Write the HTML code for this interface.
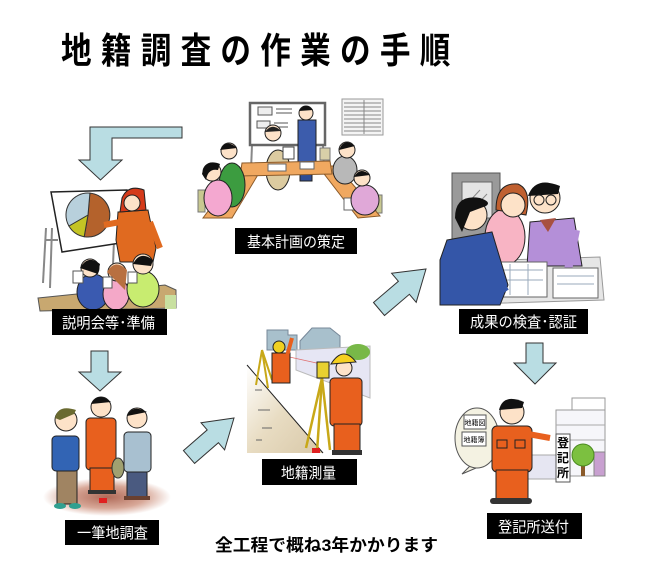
<!DOCTYPE html>
<html><head><meta charset="utf-8"><style>
html,body{margin:0;padding:0;background:#fff;}
svg{display:block;}
text{font-family:"Liberation Sans","Noto Sans CJK JP",sans-serif;}
</style></head><body>
<svg width="656" height="570" viewBox="0 0 656 570" xmlns="http://www.w3.org/2000/svg">
<defs>
<radialGradient id="sh" cx="0.5" cy="0.5" r="0.5"><stop offset="0" stop-color="#b06a58"/><stop offset="0.6" stop-color="#d8a898"/><stop offset="1" stop-color="#ffffff"/></radialGradient>
<linearGradient id="rd" x1="0" y1="0" x2="1" y2="1"><stop offset="0" stop-color="#ffffff"/><stop offset="0.5" stop-color="#e8dcc2"/><stop offset="1" stop-color="#d8c8a8"/></linearGradient>
</defs>
<rect width="656" height="570" fill="#fff"/>

<!-- Title -->
<text transform="translate(61,63) scale(0.85,1)" font-size="36" font-weight="bold" textLength="458" lengthAdjust="spacing" fill="#000">地籍調査の作業の手順</text>

<!-- Arrows -->
<g fill="#b9dde3" stroke="#333" stroke-width="1">
<polygon points="182,127 90,127 90,160 79,160 100.5,180 122,160 112,160 112,138 182,138"/>
<polygon points="91,351 108,351 108,372 121,372 100,391 79,372 91,372"/>
<polygon points="526,343 543,343 543,363 556,363 535,384 514,363 526,363"/>
<polygon points="183.4,450.6 207.2,429.9 201,422.7 234,418 224.6,449.9 218.4,442.7 194.6,463.4"/>
<polygon points="373.5,302.5 398.4,281.3 391.6,273.3 426,269 416.2,302.3 409.4,294.3 384.5,315.5"/>
</g>

<!-- A: meeting -->
<g>
<line x1="252" y1="145" x2="251" y2="170" stroke="#888" stroke-width="2"/>
<line x1="323" y1="145" x2="324" y2="168" stroke="#888" stroke-width="2"/>
<rect x="250" y="103" width="75" height="42" fill="#fff" stroke="#666" stroke-width="2.5"/>
<rect x="258" y="107" width="14" height="8" fill="#eee" stroke="#555"/>
<rect x="257" y="121" width="13" height="7" fill="#eee" stroke="#555"/>
<g stroke="#555" stroke-width="1"><line x1="276" y1="109" x2="292" y2="109"/><line x1="276" y1="113" x2="292" y2="113"/><line x1="274" y1="123" x2="288" y2="123"/><line x1="274" y1="127" x2="288" y2="127"/></g>
<rect x="342" y="99" width="41" height="36" fill="#f4f4f4" stroke="#999"/>
<g stroke="#888" stroke-width="1"><line x1="344" y1="103" x2="381" y2="103"/><line x1="344" y1="107" x2="381" y2="107"/><line x1="344" y1="111" x2="381" y2="111"/><line x1="344" y1="115" x2="381" y2="115"/><line x1="344" y1="119" x2="381" y2="119"/><line x1="344" y1="123" x2="381" y2="123"/><line x1="344" y1="127" x2="381" y2="127"/><line x1="344" y1="131" x2="381" y2="131"/><line x1="364" y1="100" x2="364" y2="134"/></g>
<rect x="320" y="148" width="10" height="12" fill="#d8d0a8" stroke="#777"/>
<rect x="198" y="190" width="7" height="22" fill="#c8c890" stroke="#777"/>
<rect x="376" y="195" width="6" height="18" fill="#c8c890" stroke="#777"/>
<rect x="298" y="120" width="18" height="45" fill="#3c5cac" stroke="#222"/>
<rect x="300" y="163" width="12" height="18" fill="#2e4c94" stroke="#222"/>
<circle cx="306" cy="113" r="7" fill="#fde2c8" stroke="#222"/>
<path d="M299,111 Q305,101 313,110 Z" fill="#111"/>
<ellipse cx="278" cy="170" rx="12" ry="20" fill="#dccba0" stroke="#222"/>
<circle cx="273" cy="133" r="8" fill="#fde2c8" stroke="#222"/>
<path d="M265,132 Q272,122 281,131 Z" fill="#222"/>
<rect x="283" y="147" width="11" height="12" fill="#fff" stroke="#444"/>
<g fill="#f0a860" stroke="#8a5a2a" stroke-width="1">
<polygon points="240,168 262,168 232,218 203,218"/>
<polygon points="318,166 337,166 380,216 358,218"/>
<polygon points="242,163 330,161 332,174 240,176"/>
</g>
<g fill="#fff" stroke="#666"><rect x="268" y="164" width="18" height="7"/><rect x="300" y="162" width="14" height="7"/><rect x="222" y="192" width="14" height="8"/><rect x="344" y="198" width="18" height="12"/></g>
<ellipse cx="232" cy="185" rx="13" ry="22" fill="#3c9c40" stroke="#222"/>
<circle cx="229" cy="151" r="8" fill="#fde2c8" stroke="#222"/>
<path d="M220,150 Q226,138 237,148 Z" fill="#111"/>
<ellipse cx="218" cy="198" rx="14" ry="18" fill="#f4a8d0" stroke="#222"/>
<circle cx="212" cy="172" r="9" fill="#fde2c8" stroke="#222"/>
<path d="M202,174 Q205,158 220,164 L218,170 Q208,168 206,180 Z" fill="#111"/>
<ellipse cx="345" cy="170" rx="12" ry="14" fill="#b8b8b8" stroke="#222"/>
<circle cx="347" cy="150" r="8" fill="#fde2c8" stroke="#222"/>
<path d="M339,150 Q344,137 355,146 Z" fill="#111"/>
<ellipse cx="365" cy="200" rx="14" ry="15" fill="#e0a8d8" stroke="#222"/>
<circle cx="362" cy="178" r="8" fill="#fde2c8" stroke="#222"/>
<path d="M354,177 Q360,166 370,175 Z" fill="#111"/>
</g>

<!-- B: presentation -->
<g>
<g stroke="#888" stroke-width="2" fill="none">
<line x1="46" y1="228" x2="43" y2="283"/><line x1="52" y1="228" x2="50" y2="288"/><line x1="46" y1="240" x2="58" y2="240"/>
<line x1="114" y1="240" x2="113" y2="265"/><line x1="124" y1="240" x2="126" y2="262"/>
</g>
<polygon points="51,192 127,190 127,242 62,252" fill="#fff" stroke="#222" stroke-width="1.5"/>
<path d="M88,215 L89.9,193.1 A22,22 0 1 1 84.2,236.7 Z" fill="#b4622c" stroke="#333"/>
<path d="M88,215 L84.2,236.7 A22,22 0 0 1 68.9,226 Z" fill="#c4c424" stroke="#333"/>
<path d="M88,215 L68.9,226 A22,22 0 0 1 89.9,193.1 Z" fill="#b8d0dc" stroke="#333"/>
<polygon points="118,212 148,210 156,248 153,262 120,262 116,240" fill="#e06a20" stroke="#222"/>
<line x1="120" y1="222" x2="104" y2="225" stroke="#e06a20" stroke-width="6"/>
<line x1="150" y1="222" x2="160" y2="248" stroke="#e06a20" stroke-width="6"/>
<path d="M122,198 Q128,184 144,190 L146,210 L120,212 Z" fill="#d43a1a" stroke="#222"/>
<circle cx="132" cy="203" r="8" fill="#fde2c8" stroke="#222"/>
<polygon points="38,298 165,285 176,290 176,308 40,311" fill="#c8a870" stroke="#555"/>
<rect x="165" y="295" width="11" height="14" fill="#c8e0a0"/>
<ellipse cx="93" cy="292" rx="16" ry="18" fill="#3a5ab0" stroke="#222"/>
<circle cx="90" cy="268" r="9" fill="#fde2c8" stroke="#222"/>
<path d="M80,268 Q88,254 100,264 L98,274 Z" fill="#111"/>
<ellipse cx="116" cy="294" rx="13" ry="16" fill="#f4a8c8" stroke="#222"/>
<circle cx="117" cy="272" r="9" fill="#fde2c8" stroke="#222"/>
<path d="M107,272 Q115,258 127,270 L125,290 Z" fill="#b87040"/>
<ellipse cx="143" cy="289" rx="16" ry="18" fill="#c8ec70" stroke="#222"/>
<circle cx="143" cy="264" r="10" fill="#fde2c8" stroke="#222"/>
<path d="M133,264 Q140,250 153,260 L151,266 Z" fill="#111"/>
<g fill="#fff" stroke="#555"><rect x="73" y="271" width="10" height="12"/><rect x="103" y="277" width="9" height="11"/><rect x="128" y="272" width="9" height="11"/></g>
</g>

<!-- C: inspection -->
<g>
<rect x="452" y="173" width="48" height="92" fill="#9a9a9a" stroke="#555"/>
<rect x="462" y="182" width="30" height="36" fill="#e4e4e4" stroke="#666"/>
<g stroke="#888"><line x1="466" y1="205" x2="480" y2="190"/><line x1="472" y1="210" x2="487" y2="194"/></g>
<polygon points="440,262 600,257 604,300 440,305" fill="#e6e6e6" stroke="#999"/>
<polygon points="530,222 574,218 582,266 527,266" fill="#b48fd8" stroke="#222"/>
<polygon points="540,220 556,218 548,232" fill="#a85040"/>
<line x1="576" y1="230" x2="568" y2="270" stroke="#b48fd8" stroke-width="8"/>
<circle cx="545" cy="198" r="15" fill="#fde2c8" stroke="#222"/>
<path d="M528,196 Q535,176 560,186 L558,194 Z" fill="#111"/>
<circle cx="539" cy="200" r="5" fill="none" stroke="#222"/><circle cx="551" cy="200" r="5" fill="none" stroke="#222"/>
<ellipse cx="505" cy="237" rx="20" ry="28" fill="#f8b4c4" stroke="#222"/>
<path d="M496,210 Q496,182 518,184 Q532,190 526,215 Z" fill="#c06030" stroke="#222"/>
<circle cx="513" cy="205" r="12" fill="#fde2c8" stroke="#222"/>
<rect x="492" y="262" width="55" height="35" fill="#fff" stroke="#666"/>
<g stroke="#9ab" stroke-width="1"><line x1="496" y1="270" x2="543" y2="270"/><line x1="496" y1="280" x2="543" y2="280"/><line x1="510" y1="264" x2="510" y2="295"/><line x1="528" y1="264" x2="528" y2="295"/></g>
<rect x="553" y="268" width="45" height="30" fill="#fff" stroke="#666"/>
<g stroke="#9ab"><line x1="557" y1="276" x2="594" y2="276"/><line x1="557" y1="284" x2="594" y2="284"/></g>
<polygon points="447,240 492,232 508,285 500,305 440,305 440,260" fill="#3456a8" stroke="#222"/>
<line x1="490" y1="270" x2="505" y2="292" stroke="#3456a8" stroke-width="9"/>
<circle cx="472" cy="215" r="15" fill="#fde2c8" stroke="#222"/>
<path d="M455,218 Q455,194 480,198 Q492,202 486,206 L470,212 L462,232 Z" fill="#111"/>
</g>

<!-- D: field survey people -->
<g>
<ellipse cx="107" cy="497" rx="64" ry="19" fill="url(#sh)"/>
<rect x="57" y="468" width="20" height="36" fill="#a08462" stroke="#222"/>
<rect x="52" y="436" width="27" height="35" rx="4" fill="#3264b4" stroke="#222"/>
<ellipse cx="60" cy="506" rx="6" ry="3" fill="#30a090"/><ellipse cx="75" cy="506" rx="6" ry="3" fill="#30a090"/>
<circle cx="66" cy="420" r="11" fill="#fde2c8" stroke="#222"/>
<path d="M55,418 Q58,404 76,410 L74,414 L60,420 Z" fill="#6a6a30"/>
<rect x="86" y="418" width="30" height="52" rx="4" fill="#e8601e" stroke="#222"/>
<rect x="90" y="468" width="24" height="24" fill="#e8601e" stroke="#222"/>
<rect x="88" y="490" width="28" height="4" fill="#333"/>
<circle cx="101" cy="407" r="10" fill="#fde2c8" stroke="#222"/>
<path d="M91,404 Q98,391 111,402 Z" fill="#111"/>
<ellipse cx="118" cy="468" rx="6" ry="10" fill="#a0a070" stroke="#333"/>
<rect x="127" y="470" width="20" height="28" fill="#4a5a80" stroke="#222"/>
<rect x="124" y="432" width="27" height="40" rx="4" fill="#a8c0d0" stroke="#222"/>
<rect x="124" y="496" width="26" height="4" fill="#6a4030"/>
<circle cx="137" cy="418" r="10" fill="#fde2c8" stroke="#222"/>
<path d="M127,416 Q132,404 147,412 Z" fill="#111"/>
<rect x="99" y="498" width="8" height="5" fill="#e02020"/>
</g>

<!-- E: surveying -->
<g>
<polygon points="247,365 323,453 247,453" fill="url(#rd)"/>
<line x1="247" y1="365" x2="323" y2="453" stroke="#222" stroke-width="1"/>
<g stroke="#666"><line x1="255" y1="390" x2="262" y2="390"/><line x1="258" y1="410" x2="270" y2="410"/><line x1="262" y1="428" x2="272" y2="428"/><line x1="256" y1="440" x2="262" y2="440"/></g>
<polygon points="267,330 288,330 288,335 297,335 297,350 267,350" fill="#a8c0cc" stroke="#789"/>
<polygon points="300,341 312,328 330,328 340,336 340,350 300,350" fill="#a8c0cc" stroke="#789"/>
<polygon points="296,350 370,346 370,398 296,370" fill="#e6e6f4" stroke="#bbb"/>
<ellipse cx="358" cy="352" rx="12" ry="8" fill="#78b848"/>
<line x1="285" y1="356" x2="330" y2="366" stroke="#e07070" stroke-width="0.8"/>
<g stroke="#c8a818" stroke-width="2"><line x1="262" y1="350" x2="256" y2="385"/><line x1="262" y1="350" x2="268" y2="388"/><line x1="262" y1="350" x2="272" y2="380"/></g>
<rect x="272" y="353" width="18" height="30" fill="#e8601e" stroke="#222"/>
<line x1="287" y1="356" x2="292" y2="338" stroke="#e8601e" stroke-width="4"/>
<circle cx="279" cy="347" r="6" fill="#f0d020" stroke="#222"/>
<g stroke="#c8a818" stroke-width="2.5"><line x1="322" y1="378" x2="306" y2="448"/><line x1="322" y1="378" x2="330" y2="450"/><line x1="322" y1="378" x2="317" y2="452"/></g>
<rect x="317" y="362" width="12" height="16" fill="#e8d030" stroke="#222"/>
<rect x="330" y="378" width="32" height="48" rx="4" fill="#e8601e" stroke="#222"/>
<rect x="334" y="424" width="26" height="28" fill="#e8601e" stroke="#222"/>
<rect x="332" y="450" width="30" height="5" fill="#333"/>
<circle cx="344" cy="368" r="8" fill="#fde2c8" stroke="#222"/>
<path d="M331,364 Q343,345 356,362 Z" fill="#f5d020" stroke="#222"/>
<rect x="312" y="448" width="8" height="5" fill="#e02020"/>
</g>

<!-- F: registry -->
<g>
<rect x="572" y="398" width="33" height="12" fill="#fff" stroke="#999"/>
<rect x="556" y="410" width="49" height="66" fill="#f6f6fa" stroke="#999"/>
<g stroke="#aaa"><line x1="556" y1="425" x2="605" y2="425"/><line x1="556" y1="440" x2="605" y2="440"/></g>
<rect x="518" y="455" width="40" height="24" fill="#e6e6f2" stroke="#aaa"/>
<rect x="594" y="452" width="11" height="24" fill="#c8a0d0" stroke="#888"/>
<rect x="581" y="460" width="4" height="16" fill="#8a5a2a"/>
<circle cx="583" cy="455" r="11" fill="#7cc040" stroke="#4a8a20"/>
<rect x="556" y="434" width="14" height="48" fill="#fff" stroke="#555"/>
<text x="563" y="447" font-size="12" font-weight="bold" text-anchor="middle">登</text>
<text x="563" y="462" font-size="12" font-weight="bold" text-anchor="middle">記</text>
<text x="563" y="477" font-size="12" font-weight="bold" text-anchor="middle">所</text>
<path d="M470,466 L462,474 L476,468 Z" fill="#f4f2e2" stroke="#555"/>
<ellipse cx="477" cy="438" rx="22" ry="30" fill="#f4f2e2" stroke="#555"/>
<rect x="464" y="415" width="22" height="14" fill="#fff" stroke="#555"/>
<rect x="462" y="432" width="24" height="14" fill="#fff" stroke="#555"/>
<text x="475" y="425" font-size="7" text-anchor="middle">地籍図</text>
<text x="474" y="442" font-size="7" text-anchor="middle">地籍簿</text>
<rect x="492" y="426" width="40" height="46" rx="5" fill="#e8601e" stroke="#222"/>
<line x1="528" y1="434" x2="550" y2="438" stroke="#e8601e" stroke-width="6"/>
<rect x="496" y="470" width="32" height="30" fill="#e8601e" stroke="#222"/>
<rect x="490" y="498" width="42" height="6" rx="3" fill="#333"/>
<rect x="497" y="440" width="10" height="8" fill="none" stroke="#222"/><rect x="515" y="440" width="10" height="8" fill="none" stroke="#222"/>
<circle cx="512" cy="412" r="12" fill="#fde2c8" stroke="#222"/>
<path d="M499,410 Q503,393 524,402 L522,408 Z" fill="#111"/>
</g>

<!-- Label boxes -->
<g fill="#000">
<rect x="235" y="228" width="122" height="26"/>
<rect x="52" y="309" width="115" height="26"/>
<rect x="65" y="520" width="94" height="25"/>
<rect x="262" y="459" width="95" height="26"/>
<rect x="459" y="309" width="129" height="25"/>
<rect x="487" y="513" width="95" height="26"/>
</g>
<g fill="#fff" font-size="15">
<text x="247" y="247" textLength="98" lengthAdjust="spacingAndGlyphs">基本計画の策定</text>
<text x="62" y="328" textLength="93" lengthAdjust="spacingAndGlyphs">説明会等･準備</text>
<text x="77" y="538" textLength="71" lengthAdjust="spacingAndGlyphs">一筆地調査</text>
<text x="281" y="478" textLength="55" lengthAdjust="spacingAndGlyphs">地籍測量</text>
<text x="470" y="327" textLength="107" lengthAdjust="spacingAndGlyphs">成果の検査･認証</text>
<text x="498" y="532" textLength="71" lengthAdjust="spacingAndGlyphs">登記所送付</text>
</g>

<text x="215" y="551" font-size="17" font-weight="bold" fill="#000" textLength="223" lengthAdjust="spacingAndGlyphs">全工程で概ね3年かかります</text>
</svg>
</body></html>
